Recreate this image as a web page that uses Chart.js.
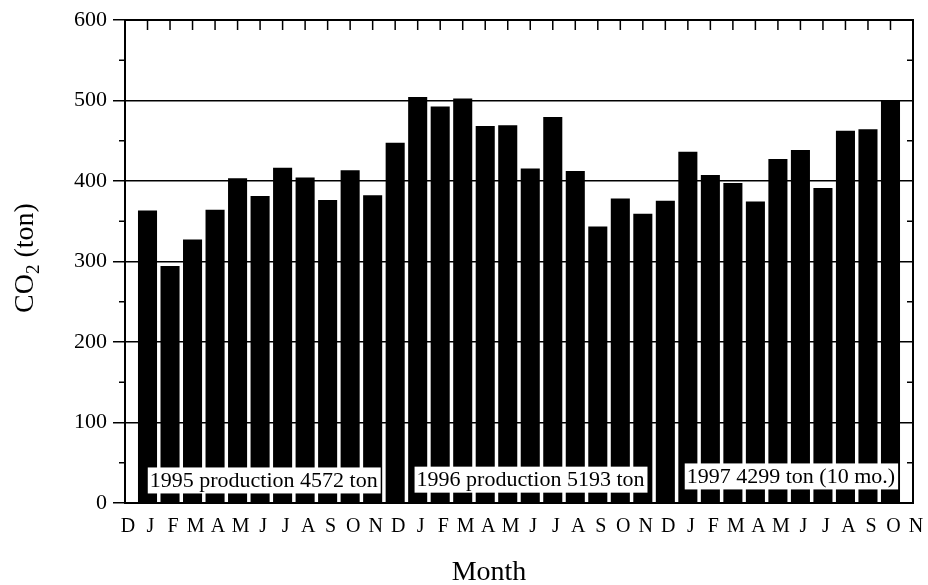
<!DOCTYPE html>
<html>
<head>
<meta charset="utf-8">
<script src="https://cdn.jsdelivr.net/npm/chart.js@4"></script>
<style>
  html, body { margin: 0; padding: 0; background: #fff; }
  #wrap { width: 928px; height: 585px; }
</style>
</head>
<body>
<div id="wrap"><canvas id="co2Chart"></canvas></div>
<script>
// Monthly CO2 (ton)
const monthLabels = ['D','J','F','M','A','M','J','J','A','S','O','N',
                     'D','J','F','M','A','M','J','J','A','S','O','N',
                     'D','J','F','M','A','M','J','J','A','S','O','N'];
const co2_1995 = [363, 294, 327, 364, 403, 381, 416, 404, 376, 413, 382, 447];
const co2_1996 = [504, 492, 502, 468, 469, 415, 479, 412, 343, 378, 359, 375];
const co2_1997 = [436, 407, 397, 374, 427, 438, 391, 462, 464, 499];
const yTicks = [0, 100, 200, 300, 400, 500, 600];
const noteTexts = ['1995 production 4572 ton', '1996 production 5193 ton', '1997 4299 ton (10 mo.)'];

// first label (Dec 1994) and last label (Nov 1997) have no bar
const barValues = [null].concat(co2_1995, co2_1996, co2_1997, [null]);

const serif = '"Liberation Serif", "DejaVu Serif", serif';

// boxes: left edge in month index, vertical centre in ton
const notePlaces = [
    { from: 1.1, mid: 28 },
    { from: 12.95, mid: 29 },
    { from: 24.95, mid: 33 }
];

const decorPlugin = {
    id: 'decor',
    afterDatasetsDraw(chart) {
        const ctx = chart.ctx;
        const x = chart.scales.x, y = chart.scales.y;
        ctx.save();
        ctx.font = '22px ' + serif;
        ctx.textBaseline = 'middle';
        noteTexts.forEach((t, i) => {
            const p = notePlaces[i];
            const w = ctx.measureText(t).width;
            const left = x.getPixelForValue(p.from);
            const cy = y.getPixelForValue(p.mid);
            ctx.fillStyle = '#fff';
            ctx.fillRect(left - 2, cy - 13, w + 5, 26);
            ctx.fillStyle = '#000';
            ctx.fillText(t, left, cy + 1);
        });
        ctx.restore();
    },
    afterDraw(chart) {
        const ctx = chart.ctx;
        const a = chart.chartArea;
        const x = chart.scales.x, y = chart.scales.y;
        ctx.save();
        ctx.strokeStyle = '#000';

        // frame
        ctx.lineWidth = 2;
        ctx.strokeRect(a.left, a.top, a.right - a.left, a.bottom - a.top);

        // top ticks, pointing in
        ctx.lineWidth = 1.5;
        ctx.beginPath();
        for (let i = 1; i < monthLabels.length - 1; i++) {
            const px = x.getPixelForValue(i);
            ctx.moveTo(px, a.top);
            ctx.lineTo(px, a.top + 10);
        }
        // minor ticks on left (out) and right (in)
        for (let v = 50; v < 600; v += 100) {
            const py = y.getPixelForValue(v);
            ctx.moveTo(a.left - 6, py);
            ctx.lineTo(a.left, py);
            ctx.moveTo(a.right - 6, py);
            ctx.lineTo(a.right, py);
        }
        ctx.stroke();

        // y title with subscript
        ctx.fillStyle = '#000';
        ctx.translate(33, 256);
        ctx.rotate(-Math.PI / 2);
        ctx.textBaseline = 'alphabetic';
        ctx.font = '28px ' + serif;
        let cx = -57;
        ctx.fillText('CO', cx, 0);
        cx += ctx.measureText('CO').width;
        ctx.font = '19px ' + serif;
        ctx.fillText('2', cx, 6);
        cx += ctx.measureText('2').width;
        ctx.font = '28px ' + serif;
        ctx.fillText(' (ton)', cx, 0);
        ctx.setTransform(1, 0, 0, 1, 0, 0);

        // x title
        ctx.font = '28px ' + serif;
        ctx.textAlign = 'center';
        ctx.fillText('Month', 489, 580);
        ctx.restore();
    }
};

const ctx = document.getElementById('co2Chart').getContext('2d');
new Chart(ctx, {
    type: 'bar',
    data: {
        labels: monthLabels,
        datasets: [{
            data: barValues,
            backgroundColor: '#000',
            borderWidth: 0,
            barThickness: 18.4
        }]
    },
    options: {
        responsive: true,
        maintainAspectRatio: false,
        animation: false,
        layout: { padding: { left: 0, right: 15, top: 20, bottom: 0 } },
        plugins: {
            legend: { display: false },
            tooltip: { enabled: false }
        },
        scales: {
            x: {
                offset: false,
                afterFit(s) {
                    s.height = 82;
                    s.paddingLeft = 0;
                    s.paddingRight = 0;
                },
                grid: { display: false, drawTicks: false },
                border: { display: false },
                ticks: {
                    color: '#000',
                    font: { family: serif, size: 20 },
                    autoSkip: false,
                    maxRotation: 0,
                    padding: 12,
                    labelOffset: 3
                }
            },
            y: {
                min: 0,
                max: 600,
                afterFit(s) { s.width = 125; },
                afterBuildTicks(s) { s.ticks = yTicks.map(v => ({ value: v })); },
                grid: { color: '#000', lineWidth: 1.5, tickLength: 12 },
                border: { display: false },
                ticks: {
                    color: '#000',
                    font: { family: serif, size: 22 },
                    padding: 6
                }
            }
        }
    },
    plugins: [decorPlugin]
});
</script>
</body>
</html>
